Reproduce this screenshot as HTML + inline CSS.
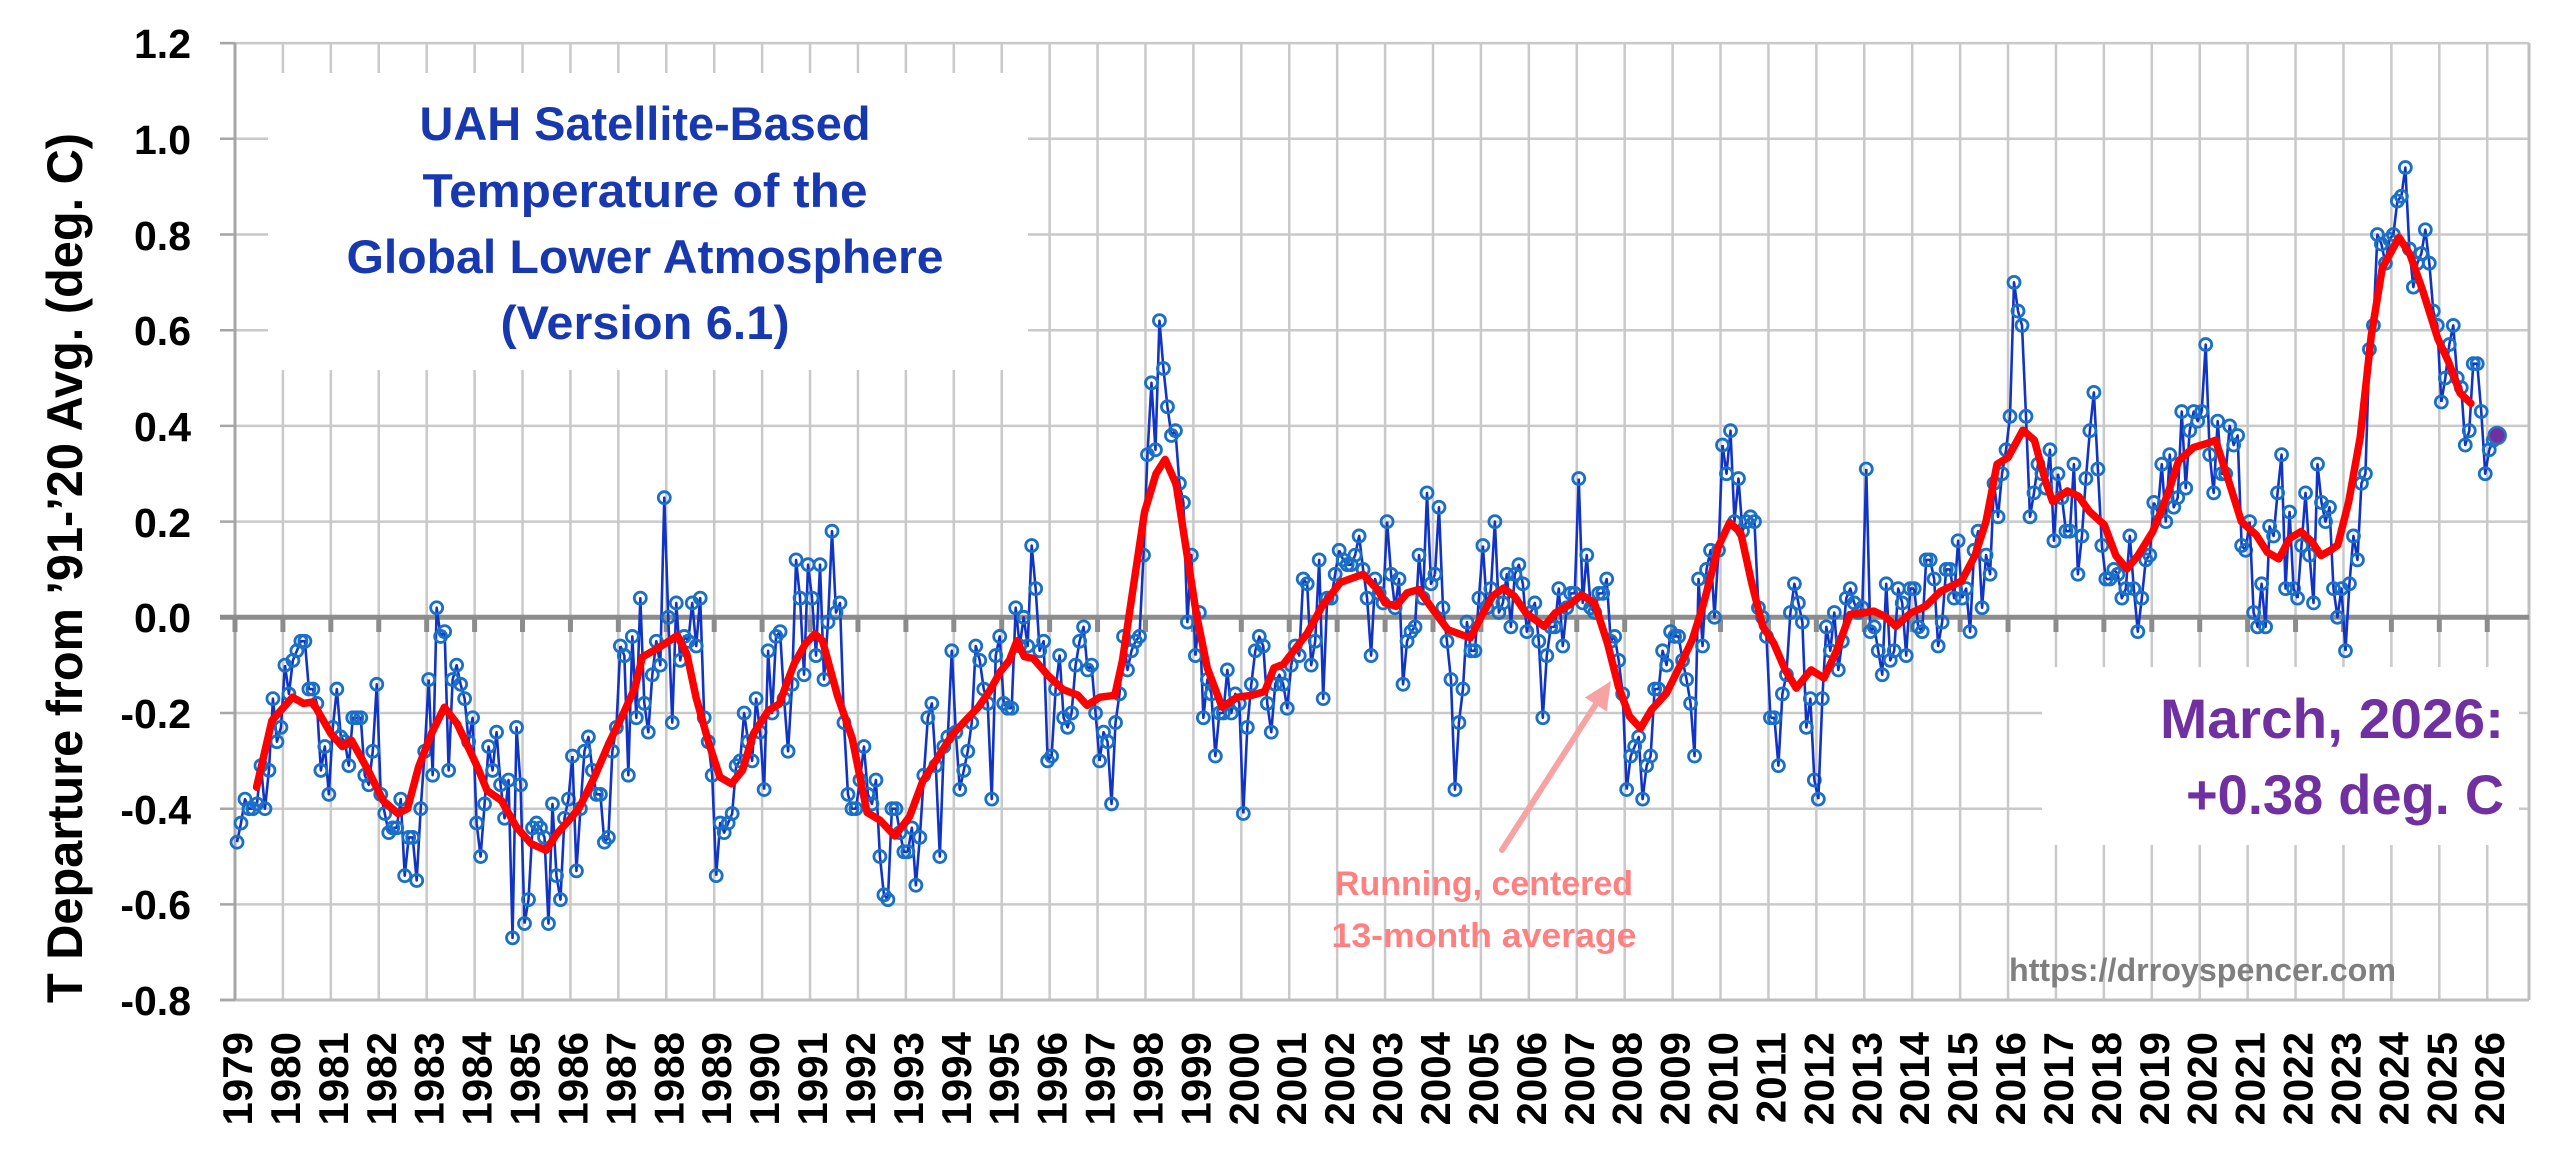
<!DOCTYPE html>
<html><head><meta charset="utf-8">
<style>
html,body{margin:0;padding:0;background:#fff;width:2560px;height:1152px;overflow:hidden}
svg{display:block}
.b{fill:none;stroke:#1234c4;stroke-width:2.6;vector-effect:non-scaling-stroke;stroke-linejoin:round;marker-start:url(#m);marker-mid:url(#m)}
.yl{font-size:41px;text-anchor:end;fill:#000}
.xl{font-size:42px;text-anchor:end;fill:#000}
.tt{font-size:47px;fill:#1838b0;text-anchor:middle}
</style></head>
<body>
<svg xmlns="http://www.w3.org/2000/svg" width="2560" height="1152" viewBox="0 0 2560 1152" font-family="'Liberation Sans', Arial, sans-serif" font-weight="bold">
<defs>
<marker id="m" markerUnits="userSpaceOnUse" markerWidth="1" markerHeight="1" refX="0" refY="0" overflow="visible" style="overflow:visible">
<circle r="6" transform="scale(0.250419 -0.00208986)" fill="none" stroke="#1a6fc6" stroke-width="2.8"/>
</marker>
</defs>
<rect x="0" y="0" width="2560" height="1152" fill="#fff"/>

<!-- vertical gridlines -->
<path fill="none" stroke="#c9c9c9" stroke-width="2.5" d="M282.92 43V1000M330.84 43V1000M378.76 43V1000M426.68 43V1000M474.6 43V1000M522.52 43V1000M570.44 43V1000M618.36 43V1000M666.28 43V1000M714.2 43V1000M762.12 43V1000M810.04 43V1000M857.96 43V1000M905.88 43V1000M953.8 43V1000M1001.72 43V1000M1049.64 43V1000M1097.56 43V1000M1145.48 43V1000M1193.4 43V1000M1241.32 43V1000M1289.24 43V1000M1337.16 43V1000M1385.08 43V1000M1433 43V1000M1480.92 43V1000M1528.84 43V1000M1576.76 43V1000M1624.68 43V1000M1672.6 43V1000M1720.52 43V1000M1768.44 43V1000M1816.36 43V1000M1864.28 43V1000M1912.2 43V1000M1960.12 43V1000M2008.04 43V1000M2055.96 43V1000M2103.88 43V1000M2151.8 43V1000M2199.72 43V1000M2247.64 43V1000M2295.56 43V1000M2343.48 43V1000M2391.4 43V1000M2439.32 43V1000M2487.24 43V1000"/>
<!-- horizontal gridlines -->
<path fill="none" stroke="#c9c9c9" stroke-width="2.5" d="M220 43.1H2529M235 138.8H2529M235 234.5H2529M235 330.2H2529M235 425.9H2529M235 521.6H2529M235 713H2529M235 808.7H2529M235 904.4H2529"/>
<!-- white boxes -->
<rect x="268" y="73" width="760" height="297" fill="#fff"/>
<rect x="2042" y="667" width="477" height="178" fill="#fff"/>
<!-- borders -->
<path fill="none" stroke="#bfbfbf" stroke-width="3" d="M220 1000H2529M2529 43V1000"/>
<path fill="none" stroke="#a6a6a6" stroke-width="3" d="M235 43V1000"/>
<path fill="none" stroke="#a6a6a6" stroke-width="2.5" d="M220 43.1H235M220 138.8H235M220 234.5H235M220 330.2H235M220 425.9H235M220 521.6H235M220 713H235M220 808.7H235M220 904.4H235M220 1000H235"/>
<!-- zero line and ticks -->
<path fill="none" stroke="#8c8c8c" stroke-width="5" d="M220 617.3H2529"/>
<path fill="none" stroke="#8c8c8c" stroke-width="5" d="M235 617V632M282.92 617V632M330.84 617V632M378.76 617V632M426.68 617V632M474.6 617V632M522.52 617V632M570.44 617V632M618.36 617V632M666.28 617V632M714.2 617V632M762.12 617V632M810.04 617V632M857.96 617V632M905.88 617V632M953.8 617V632M1001.72 617V632M1049.64 617V632M1097.56 617V632M1145.48 617V632M1193.4 617V632M1241.32 617V632M1289.24 617V632M1337.16 617V632M1385.08 617V632M1433 617V632M1480.92 617V632M1528.84 617V632M1576.76 617V632M1624.68 617V632M1672.6 617V632M1720.52 617V632M1768.44 617V632M1816.36 617V632M1864.28 617V632M1912.2 617V632M1960.12 617V632M2008.04 617V632M2055.96 617V632M2103.88 617V632M2151.8 617V632M2199.72 617V632M2247.64 617V632M2295.56 617V632M2343.48 617V632M2391.4 617V632M2439.32 617V632M2487.24 617V632"/>

<!-- monthly data -->
<g transform="matrix(3.9933 0 0 -478.5 237 617.3)">
<polyline class="b" transform="translate(0 0)" points="0,-0.47 1,-0.43 2,-0.38 3,-0.40 4,-0.40 5,-0.39 6,-0.31 7,-0.40 8,-0.32 9,-0.17 10,-0.26 11,-0.23 12,-0.10"/>
<polyline class="b" transform="translate(12 0)" points="0,-0.10 1,-0.16 2,-0.09 3,-0.07 4,-0.05 5,-0.05 6,-0.15 7,-0.15 8,-0.18 9,-0.32 10,-0.27 11,-0.37 12,-0.23"/>
<polyline class="b" transform="translate(24 0)" points="0,-0.23 1,-0.15 2,-0.25 3,-0.26 4,-0.31 5,-0.21 6,-0.21 7,-0.21 8,-0.33 9,-0.35 10,-0.28 11,-0.14 12,-0.37"/>
<polyline class="b" transform="translate(36 0)" points="0,-0.37 1,-0.41 2,-0.45 3,-0.44 4,-0.44 5,-0.38 6,-0.54 7,-0.46 8,-0.46 9,-0.55 10,-0.40 11,-0.28 12,-0.13"/>
<polyline class="b" transform="translate(48 0)" points="0,-0.13 1,-0.33 2,0.02 3,-0.04 4,-0.03 5,-0.32 6,-0.13 7,-0.10 8,-0.14 9,-0.17 10,-0.26 11,-0.21 12,-0.43"/>
<polyline class="b" transform="translate(60 0)" points="0,-0.43 1,-0.50 2,-0.39 3,-0.27 4,-0.32 5,-0.24 6,-0.35 7,-0.42 8,-0.34 9,-0.67 10,-0.23 11,-0.35 12,-0.64"/>
<polyline class="b" transform="translate(72 0)" points="0,-0.64 1,-0.59 2,-0.44 3,-0.43 4,-0.44 5,-0.46 6,-0.64 7,-0.39 8,-0.54 9,-0.59 10,-0.42 11,-0.38 12,-0.29"/>
<polyline class="b" transform="translate(84 0)" points="0,-0.29 1,-0.53 2,-0.40 3,-0.28 4,-0.25 5,-0.32 6,-0.37 7,-0.37 8,-0.47 9,-0.46 10,-0.28 11,-0.23 12,-0.06"/>
<polyline class="b" transform="translate(96 0)" points="0,-0.06 1,-0.08 2,-0.33 3,-0.04 4,-0.21 5,0.04 6,-0.18 7,-0.24 8,-0.12 9,-0.05 10,-0.10 11,0.25 12,0.00"/>
<polyline class="b" transform="translate(108 0)" points="0,0.00 1,-0.22 2,0.03 3,-0.09 4,-0.04 5,-0.05 6,0.03 7,-0.06 8,0.04 9,-0.21 10,-0.26 11,-0.33 12,-0.54"/>
<polyline class="b" transform="translate(120 0)" points="0,-0.54 1,-0.43 2,-0.45 3,-0.43 4,-0.41 5,-0.31 6,-0.30 7,-0.20 8,-0.26 9,-0.30 10,-0.17 11,-0.24 12,-0.36"/>
<polyline class="b" transform="translate(132 0)" points="0,-0.36 1,-0.07 2,-0.20 3,-0.04 4,-0.03 5,-0.17 6,-0.28 7,-0.14 8,0.12 9,0.04 10,-0.12 11,0.11 12,0.04"/>
<polyline class="b" transform="translate(144 0)" points="0,0.04 1,-0.08 2,0.11 3,-0.13 4,-0.01 5,0.18 6,0.01 7,0.03 8,-0.22 9,-0.37 10,-0.40 11,-0.40 12,-0.34"/>
<polyline class="b" transform="translate(156 0)" points="0,-0.34 1,-0.27 2,-0.37 3,-0.39 4,-0.34 5,-0.50 6,-0.58 7,-0.59 8,-0.40 9,-0.40 10,-0.45 11,-0.49 12,-0.49"/>
<polyline class="b" transform="translate(168 0)" points="0,-0.49 1,-0.44 2,-0.56 3,-0.46 4,-0.33 5,-0.21 6,-0.18 7,-0.31 8,-0.50 9,-0.27 10,-0.25 11,-0.07 12,-0.24"/>
<polyline class="b" transform="translate(180 0)" points="0,-0.24 1,-0.36 2,-0.32 3,-0.28 4,-0.22 5,-0.06 6,-0.09 7,-0.15 8,-0.18 9,-0.38 10,-0.08 11,-0.04 12,-0.18"/>
<polyline class="b" transform="translate(192 0)" points="0,-0.18 1,-0.19 2,-0.19 3,0.02 4,-0.06 5,0.00 6,-0.06 7,0.15 8,0.06 9,-0.07 10,-0.05 11,-0.30 12,-0.29"/>
<polyline class="b" transform="translate(204 0)" points="0,-0.29 1,-0.15 2,-0.08 3,-0.21 4,-0.23 5,-0.20 6,-0.10 7,-0.05 8,-0.02 9,-0.11 10,-0.10 11,-0.20 12,-0.30"/>
<polyline class="b" transform="translate(216 0)" points="0,-0.30 1,-0.24 2,-0.26 3,-0.39 4,-0.22 5,-0.16 6,-0.04 7,-0.11 8,-0.07 9,-0.05 10,-0.04 11,0.13 12,0.34"/>
<polyline class="b" transform="translate(228 0)" points="0,0.34 1,0.49 2,0.35 3,0.62 4,0.52 5,0.44 6,0.38 7,0.39 8,0.28 9,0.24 10,-0.01 11,0.13 12,-0.08"/>
<polyline class="b" transform="translate(240 0)" points="0,-0.08 1,0.01 2,-0.21 3,-0.13 4,-0.16 5,-0.29 6,-0.20 7,-0.20 8,-0.11 9,-0.20 10,-0.16 11,-0.18 12,-0.41"/>
<polyline class="b" transform="translate(252 0)" points="0,-0.41 1,-0.23 2,-0.14 3,-0.07 4,-0.04 5,-0.06 6,-0.18 7,-0.24 8,-0.14 9,-0.12 10,-0.14 11,-0.19 12,-0.10"/>
<polyline class="b" transform="translate(264 0)" points="0,-0.10 1,-0.06 2,-0.08 3,0.08 4,0.07 5,-0.10 6,-0.05 7,0.12 8,-0.17 9,0.04 10,0.04 11,0.09 12,0.14"/>
<polyline class="b" transform="translate(276 0)" points="0,0.14 1,0.12 2,0.11 3,0.11 4,0.13 5,0.17 6,0.10 7,0.04 8,-0.08 9,0.08 10,0.05 11,0.03 12,0.20"/>
<polyline class="b" transform="translate(288 0)" points="0,0.20 1,0.09 2,0.02 3,0.08 4,-0.14 5,-0.05 6,-0.03 7,-0.02 8,0.13 9,0.04 10,0.26 11,0.07 12,0.09"/>
<polyline class="b" transform="translate(300 0)" points="0,0.09 1,0.23 2,0.02 3,-0.05 4,-0.13 5,-0.36 6,-0.22 7,-0.15 8,-0.01 9,-0.07 10,-0.07 11,0.04 12,0.15"/>
<polyline class="b" transform="translate(312 0)" points="0,0.15 1,0.02 2,0.06 3,0.20 4,0.01 5,0.03 6,0.09 7,-0.02 8,0.09 9,0.11 10,0.07 11,-0.03 12,0.01"/>
<polyline class="b" transform="translate(324 0)" points="0,0.01 1,0.03 2,-0.05 3,-0.21 4,-0.08 5,-0.02 6,-0.02 7,0.06 8,-0.06 9,0.02 10,0.05 11,0.05 12,0.29"/>
<polyline class="b" transform="translate(336 0)" points="0,0.29 1,0.03 2,0.13 3,0.02 4,0.01 5,0.05 6,0.05 7,0.08 8,-0.05 9,-0.04 10,-0.09 11,-0.16 12,-0.36"/>
<polyline class="b" transform="translate(348 0)" points="0,-0.36 1,-0.29 2,-0.27 3,-0.25 4,-0.38 5,-0.31 6,-0.29 7,-0.15 8,-0.15 9,-0.07 10,-0.10 11,-0.03 12,-0.04"/>
<polyline class="b" transform="translate(360 0)" points="0,-0.04 1,-0.04 2,-0.09 3,-0.13 4,-0.18 5,-0.29 6,0.08 7,-0.06 8,0.10 9,0.14 10,0.00 11,0.14 12,0.36"/>
<polyline class="b" transform="translate(372 0)" points="0,0.36 1,0.30 2,0.39 3,0.20 4,0.29 5,0.18 6,0.20 7,0.21 8,0.20 9,0.02 10,0.00 11,-0.04 12,-0.21"/>
<polyline class="b" transform="translate(384 0)" points="0,-0.21 1,-0.21 2,-0.31 3,-0.16 4,-0.12 5,0.01 6,0.07 7,0.03 8,-0.01 9,-0.23 10,-0.17 11,-0.34 12,-0.38"/>
<polyline class="b" transform="translate(396 0)" points="0,-0.38 1,-0.17 2,-0.02 3,-0.07 4,0.01 5,-0.11 6,-0.05 7,0.04 8,0.06 9,0.03 10,0.01 11,0.02 12,0.31"/>
<polyline class="b" transform="translate(408 0)" points="0,0.31 1,-0.03 2,-0.02 3,-0.07 4,-0.12 5,0.07 6,-0.09 7,-0.07 8,0.06 9,0.03 10,-0.08 11,0.06 12,0.06"/>
<polyline class="b" transform="translate(420 0)" points="0,0.06 1,-0.02 2,-0.03 3,0.12 4,0.12 5,0.08 6,-0.06 7,-0.01 8,0.10 9,0.10 10,0.04 11,0.16 12,0.04"/>
<polyline class="b" transform="translate(432 0)" points="0,0.04 1,0.06 2,-0.03 3,0.14 4,0.18 5,0.02 6,0.13 7,0.09 8,0.28 9,0.21 10,0.30 11,0.35 12,0.42"/>
<polyline class="b" transform="translate(444 0)" points="0,0.42 1,0.70 2,0.64 3,0.61 4,0.42 5,0.21 6,0.26 7,0.32 8,0.30 9,0.27 10,0.35 11,0.16 12,0.30"/>
<polyline class="b" transform="translate(456 0)" points="0,0.30 1,0.25 2,0.18 3,0.18 4,0.32 5,0.09 6,0.17 7,0.29 8,0.39 9,0.47 10,0.31 11,0.15 12,0.08"/>
<polyline class="b" transform="translate(468 0)" points="0,0.08 1,0.08 2,0.10 3,0.09 4,0.04 5,0.06 6,0.17 7,0.06 8,-0.03 9,0.04 10,0.12 11,0.13 12,0.24"/>
<polyline class="b" transform="translate(480 0)" points="0,0.24 1,0.22 2,0.32 3,0.20 4,0.34 5,0.23 6,0.25 7,0.43 8,0.27 9,0.39 10,0.43 11,0.41 12,0.43"/>
<polyline class="b" transform="translate(492 0)" points="0,0.43 1,0.57 2,0.34 3,0.26 4,0.41 5,0.30 6,0.30 7,0.40 8,0.36 9,0.38 10,0.15 11,0.14 12,0.20"/>
<polyline class="b" transform="translate(504 0)" points="0,0.20 1,0.01 2,-0.02 3,0.07 4,-0.02 5,0.19 6,0.17 7,0.26 8,0.34 9,0.06 10,0.22 11,0.06 12,0.04"/>
<polyline class="b" transform="translate(516 0)" points="0,0.04 1,0.15 2,0.26 3,0.13 4,0.03 5,0.32 6,0.24 7,0.20 8,0.23 9,0.06 10,0.00 11,0.06 12,-0.07"/>
<polyline class="b" transform="translate(528 0)" points="0,-0.07 1,0.07 2,0.17 3,0.12 4,0.28 5,0.30 6,0.56 7,0.61 8,0.80 9,0.78 10,0.74 11,0.79 12,0.80"/>
<polyline class="b" transform="translate(540 0)" points="0,0.80 1,0.87 2,0.88 3,0.94 4,0.77 5,0.69 6,0.74 7,0.76 8,0.81 9,0.74 10,0.64 11,0.61 12,0.45"/>
<polyline class="b" transform="translate(552 0)" points="0,0.45 1,0.50 2,0.57 3,0.61 4,0.50 5,0.48 6,0.36 7,0.39 8,0.53 9,0.53 10,0.43 11,0.30 12,0.35"/>
<polyline class="b" transform="translate(564 0)" points="0,0.35 1,0.37 2,0.38"/>
</g>

<!-- running 13-month average -->
<g transform="matrix(47.92 0 0 -478.5 235 617.3)">
<polyline fill="none" stroke="#ff0000" stroke-width="7.5" stroke-linejoin="round" stroke-linecap="round" style="vector-effect:non-scaling-stroke" points="0.45,-0.355 0.77,-0.216 1.2,-0.167 1.43,-0.18 1.62,-0.177 2.0,-0.243 2.24,-0.27 2.43,-0.257 2.78,-0.32 3.09,-0.383 3.4,-0.41 3.6,-0.40 3.83,-0.313 4.1,-0.243 4.37,-0.188 4.64,-0.223 5.06,-0.313 5.26,-0.362 5.56,-0.383 5.87,-0.438 6.18,-0.473 6.49,-0.487 6.72,-0.452 7.03,-0.417 7.19,-0.397 7.5,-0.334 7.8,-0.264 8.11,-0.20 8.35,-0.146 8.5,-0.083 8.73,-0.07 8.96,-0.056 9.23,-0.038 9.43,-0.077 9.62,-0.167 9.89,-0.264 10.12,-0.334 10.36,-0.348 10.59,-0.32 10.82,-0.243 11.13,-0.195 11.36,-0.181 11.51,-0.139 11.67,-0.097 11.9,-0.056 12.1,-0.035 12.26,-0.049 12.57,-0.163 12.88,-0.253 13.19,-0.408 13.46,-0.424 13.77,-0.457 14.08,-0.416 14.35,-0.343 14.66,-0.294 14.97,-0.245 15.28,-0.212 15.51,-0.188 15.74,-0.155 15.97,-0.114 16.16,-0.09 16.32,-0.049 16.47,-0.082 16.66,-0.086 16.97,-0.122 17.28,-0.151 17.59,-0.163 17.78,-0.184 18.05,-0.167 18.36,-0.163 18.52,-0.09 18.76,0.073 18.98,0.22 19.22,0.30 19.41,0.33 19.64,0.278 19.83,0.155 20.06,0.008 20.29,-0.106 20.6,-0.188 20.91,-0.167 21.22,-0.163 21.49,-0.155 21.68,-0.106 21.88,-0.098 22.07,-0.073 22.38,-0.033 22.69,0.024 23.07,0.073 23.54,0.09 23.85,0.057 24.0,0.03 24.23,0.023 24.46,0.051 24.7,0.058 25.0,0.016 25.31,-0.026 25.78,-0.043 26.01,0.002 26.24,0.044 26.47,0.061 26.7,0.044 26.94,0.009 27.32,-0.019 27.55,0.009 27.86,0.027 28.1,0.047 28.37,0.03 28.64,-0.054 28.87,-0.145 29.1,-0.207 29.33,-0.232 29.56,-0.193 29.87,-0.159 30.18,-0.096 30.41,-0.047 30.65,0.03 30.96,0.149 31.19,0.198 31.42,0.177 31.65,0.072 31.88,-0.019 32.11,-0.054 32.35,-0.11 32.58,-0.148 32.89,-0.11 33.16,-0.127 33.43,-0.068 33.7,0.006 33.97,0.009 34.2,0.013 34.43,0.002 34.66,-0.019 34.97,0.009 35.28,0.023 35.59,0.054 36.03,0.076 36.31,0.129 36.54,0.20 36.77,0.32 37.0,0.334 37.31,0.391 37.55,0.37 37.78,0.285 37.93,0.242 38.24,0.264 38.47,0.253 38.7,0.221 39.01,0.193 39.25,0.129 39.48,0.101 39.71,0.129 40.02,0.179 40.33,0.257 40.56,0.327 40.87,0.355 41.14,0.363 41.33,0.37 41.56,0.299 41.87,0.20 42.18,0.172 42.41,0.136 42.65,0.122 42.88,0.165 43.11,0.179 43.34,0.158 43.53,0.129 43.73,0.14 43.88,0.151 44.11,0.242 44.35,0.377 44.58,0.589 44.81,0.73 45.16,0.794 45.39,0.758 45.66,0.681 45.97,0.582 46.2,0.532 46.43,0.469 46.66,0.447"/>
</g>

<!-- last month marker -->
<circle cx="2497.2" cy="435.5" r="8.5" fill="#7030a0" stroke="#2f6fc0" stroke-width="2.5"/>

<!-- y tick labels -->
<text class="yl" x="191" y="58">1.2</text>
<text class="yl" x="191" y="154">1.0</text>
<text class="yl" x="191" y="250">0.8</text>
<text class="yl" x="191" y="345">0.6</text>
<text class="yl" x="191" y="441">0.4</text>
<text class="yl" x="191" y="537">0.2</text>
<text class="yl" x="191" y="632">0.0</text>
<text class="yl" x="191" y="728">-0.2</text>
<text class="yl" x="191" y="824">-0.4</text>
<text class="yl" x="191" y="919">-0.6</text>
<text class="yl" x="191" y="1015">-0.8</text>

<!-- y axis title -->
<text transform="translate(82,568) rotate(-90)" text-anchor="middle" font-size="50" textLength="870" lengthAdjust="spacingAndGlyphs" fill="#000">T Departure from ’91-’20 Avg. (deg. C)</text>

<!-- x tick labels -->
<text class="xl" transform="translate(252,1032) rotate(-90)">1979</text>
<text class="xl" transform="translate(299.9,1032) rotate(-90)">1980</text>
<text class="xl" transform="translate(347.8,1032) rotate(-90)">1981</text>
<text class="xl" transform="translate(395.8,1032) rotate(-90)">1982</text>
<text class="xl" transform="translate(443.7,1032) rotate(-90)">1983</text>
<text class="xl" transform="translate(491.6,1032) rotate(-90)">1984</text>
<text class="xl" transform="translate(539.5,1032) rotate(-90)">1985</text>
<text class="xl" transform="translate(587.4,1032) rotate(-90)">1986</text>
<text class="xl" transform="translate(635.4,1032) rotate(-90)">1987</text>
<text class="xl" transform="translate(683.3,1032) rotate(-90)">1988</text>
<text class="xl" transform="translate(731.2,1032) rotate(-90)">1989</text>
<text class="xl" transform="translate(779.1,1032) rotate(-90)">1990</text>
<text class="xl" transform="translate(827,1032) rotate(-90)">1991</text>
<text class="xl" transform="translate(875,1032) rotate(-90)">1992</text>
<text class="xl" transform="translate(922.9,1032) rotate(-90)">1993</text>
<text class="xl" transform="translate(970.8,1032) rotate(-90)">1994</text>
<text class="xl" transform="translate(1018.7,1032) rotate(-90)">1995</text>
<text class="xl" transform="translate(1066.6,1032) rotate(-90)">1996</text>
<text class="xl" transform="translate(1114.6,1032) rotate(-90)">1997</text>
<text class="xl" transform="translate(1162.5,1032) rotate(-90)">1998</text>
<text class="xl" transform="translate(1210.4,1032) rotate(-90)">1999</text>
<text class="xl" transform="translate(1258.3,1032) rotate(-90)">2000</text>
<text class="xl" transform="translate(1306.2,1032) rotate(-90)">2001</text>
<text class="xl" transform="translate(1354.2,1032) rotate(-90)">2002</text>
<text class="xl" transform="translate(1402.1,1032) rotate(-90)">2003</text>
<text class="xl" transform="translate(1450,1032) rotate(-90)">2004</text>
<text class="xl" transform="translate(1497.9,1032) rotate(-90)">2005</text>
<text class="xl" transform="translate(1545.8,1032) rotate(-90)">2006</text>
<text class="xl" transform="translate(1593.8,1032) rotate(-90)">2007</text>
<text class="xl" transform="translate(1641.7,1032) rotate(-90)">2008</text>
<text class="xl" transform="translate(1689.6,1032) rotate(-90)">2009</text>
<text class="xl" transform="translate(1737.5,1032) rotate(-90)">2010</text>
<text class="xl" transform="translate(1785.4,1032) rotate(-90)">2011</text>
<text class="xl" transform="translate(1833.4,1032) rotate(-90)">2012</text>
<text class="xl" transform="translate(1881.3,1032) rotate(-90)">2013</text>
<text class="xl" transform="translate(1929.2,1032) rotate(-90)">2014</text>
<text class="xl" transform="translate(1977.1,1032) rotate(-90)">2015</text>
<text class="xl" transform="translate(2025,1032) rotate(-90)">2016</text>
<text class="xl" transform="translate(2073,1032) rotate(-90)">2017</text>
<text class="xl" transform="translate(2120.9,1032) rotate(-90)">2018</text>
<text class="xl" transform="translate(2168.8,1032) rotate(-90)">2019</text>
<text class="xl" transform="translate(2216.7,1032) rotate(-90)">2020</text>
<text class="xl" transform="translate(2264.6,1032) rotate(-90)">2021</text>
<text class="xl" transform="translate(2312.6,1032) rotate(-90)">2022</text>
<text class="xl" transform="translate(2360.5,1032) rotate(-90)">2023</text>
<text class="xl" transform="translate(2408.4,1032) rotate(-90)">2024</text>
<text class="xl" transform="translate(2456.3,1032) rotate(-90)">2025</text>
<text class="xl" transform="translate(2504.2,1032) rotate(-90)">2026</text>

<!-- title -->
<text class="tt" x="645" y="140" textLength="451" lengthAdjust="spacingAndGlyphs">UAH Satellite-Based</text>
<text class="tt" x="645" y="207" textLength="445" lengthAdjust="spacingAndGlyphs">Temperature of the</text>
<text class="tt" x="645" y="273" textLength="597" lengthAdjust="spacingAndGlyphs">Global Lower Atmosphere</text>
<text class="tt" x="645" y="339" textLength="289" lengthAdjust="spacingAndGlyphs">(Version 6.1)</text>

<!-- latest value annotation -->
<text x="2504" y="738" text-anchor="end" font-size="56" fill="#7030a0" textLength="344" lengthAdjust="spacingAndGlyphs">March, 2026:</text>
<text x="2504" y="814" text-anchor="end" font-size="56" fill="#7030a0" textLength="318" lengthAdjust="spacingAndGlyphs">+0.38 deg. C</text>

<!-- url -->
<text x="2009" y="981" font-size="32" fill="#7f7f7f" textLength="387" lengthAdjust="spacingAndGlyphs">https://drroyspencer.com</text>

<!-- running average annotation -->
<line x1="1502" y1="850" x2="1596" y2="704" stroke="#f7a3a3" stroke-width="6" stroke-linecap="round"/>
<polygon points="1611,681 1606.7,711.5 1584.9,697.5" fill="#f7a3a3"/>
<text x="1484" y="895" text-anchor="middle" font-size="34" fill="#ff8080" textLength="298" lengthAdjust="spacingAndGlyphs">Running, centered</text>
<text x="1484" y="947" text-anchor="middle" font-size="34" fill="#ff8080" textLength="305" lengthAdjust="spacingAndGlyphs">13-month average</text>
</svg>
</body></html>
